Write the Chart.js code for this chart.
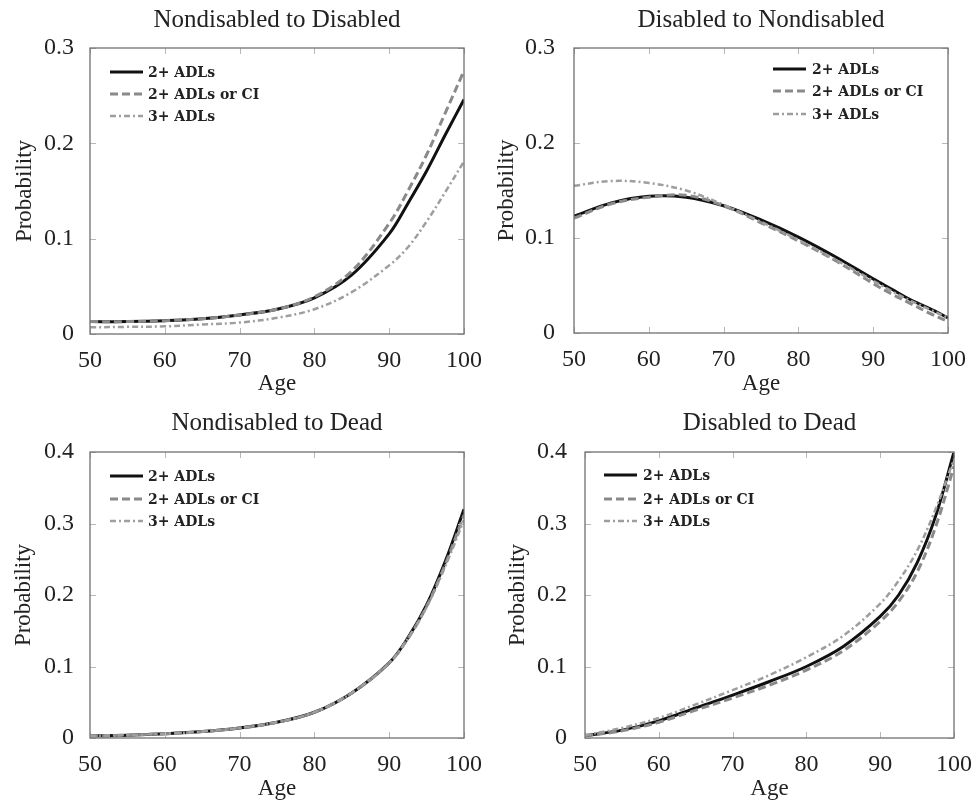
<!DOCTYPE html>
<html>
<head>
<meta charset="utf-8">
<script src="https://cdn.jsdelivr.net/npm/chart.js@4.4.0/dist/chart.umd.min.js"></script>
<style>
  html, body { margin: 0; padding: 0; background: #fff; }
  #wrap { position: relative; width: 976px; height: 802px; }
  .panel { position: absolute; width: 488px; height: 401px; }
</style>
</head>
<body>
<div id="wrap">
  <div class="panel" style="left:0;top:0"><canvas id="c1" width="488" height="401"></canvas></div>
  <div class="panel" style="left:488px;top:0"><canvas id="c2" width="488" height="401"></canvas></div>
  <div class="panel" style="left:0;top:401px"><canvas id="c3" width="488" height="401"></canvas></div>
  <div class="panel" style="left:488px;top:401px"><canvas id="c4" width="488" height="401"></canvas></div>
</div>
<script>
// ages shared by every curve
const ages = [50, 55, 60, 65, 70, 75, 80, 85, 90, 92.5, 95, 97.5, 100];
const xTicks = [50, 60, 70, 80, 90, 100];
const seriesLabels = ['2+ ADLs', '2+ ADLs or CI', '3+ ADLs'];

// Nondisabled to Disabled
const ndToDis2 = [0.013, 0.013, 0.014, 0.016, 0.020, 0.026, 0.038, 0.062, 0.105, 0.137, 0.171, 0.209, 0.246];
const ndToDis2ci = [0.013, 0.013, 0.014, 0.016, 0.020, 0.026, 0.039, 0.066, 0.116, 0.150, 0.188, 0.232, 0.276];
const ndToDis3 = [0.007, 0.0075, 0.008, 0.010, 0.012, 0.017, 0.026, 0.044, 0.072, 0.091, 0.118, 0.149, 0.181];

// Disabled to Nondisabled
const disToNd2 = [0.123, 0.137, 0.144, 0.143, 0.134, 0.119, 0.101, 0.080, 0.057, 0.046, 0.035, 0.026, 0.016];
const disToNd2ci = [0.121, 0.136, 0.143, 0.145, 0.134, 0.116, 0.097, 0.076, 0.052, 0.041, 0.031, 0.021, 0.012];
const disToNd3 = [0.155, 0.160, 0.158, 0.150, 0.135, 0.117, 0.098, 0.077, 0.055, 0.044, 0.034, 0.025, 0.016];

// Nondisabled to Dead
const ndToDead2 = [0.003, 0.004, 0.006, 0.009, 0.014, 0.022, 0.036, 0.063, 0.105, 0.140, 0.186, 0.247, 0.320];
const ndToDead2ci = [0.003, 0.004, 0.006, 0.009, 0.014, 0.022, 0.036, 0.063, 0.105, 0.139, 0.184, 0.243, 0.312];
const ndToDead3 = [0.003, 0.004, 0.006, 0.009, 0.014, 0.022, 0.036, 0.063, 0.105, 0.139, 0.183, 0.240, 0.305];

// Disabled to Dead
const disToDead2 = [0.003, 0.011, 0.024, 0.042, 0.060, 0.079, 0.100, 0.128, 0.170, 0.200, 0.245, 0.310, 0.400];
const disToDead2ci = [0.003, 0.010, 0.022, 0.039, 0.056, 0.074, 0.095, 0.122, 0.163, 0.191, 0.232, 0.295, 0.380];
const disToDead3 = [0.004, 0.014, 0.028, 0.047, 0.067, 0.088, 0.113, 0.143, 0.188, 0.220, 0.262, 0.320, 0.390];

const FONT = "'Liberation Serif', 'Times New Roman', serif";
const INK = '#222';

const STYLES = [
  { borderColor: '#111111', borderWidth: 3, borderDash: [], order: 2 },
  { borderColor: '#8a8a8a', borderWidth: 3, borderDash: [8, 4], order: 1 },
  { borderColor: '#9e9e9e', borderWidth: 2.5, borderDash: [6, 3, 2, 3], order: 0 },
];

// pgfplots-ish frame with ticks pointing inwards on all four sides
const frame = {
  id: 'frame',
  afterDatasetsDraw(chart) {
    const { ctx, chartArea: a, scales: { x, y } } = chart;
    ctx.save();
    ctx.strokeStyle = '#b8b8b8';
    ctx.lineWidth = 1;
    ctx.beginPath();
    x.ticks.forEach((t) => {
      const px = Math.round(x.getPixelForValue(t.value)) + 0.5;
      ctx.moveTo(px, a.bottom); ctx.lineTo(px, a.bottom - 6);
      ctx.moveTo(px, a.top); ctx.lineTo(px, a.top + 6);
    });
    y.ticks.forEach((t) => {
      const py = Math.round(y.getPixelForValue(t.value)) + 0.5;
      ctx.moveTo(a.left, py); ctx.lineTo(a.left + 6, py);
      ctx.moveTo(a.right, py); ctx.lineTo(a.right - 6, py);
    });
    ctx.stroke();
    ctx.strokeStyle = '#707070';
    ctx.lineWidth = 1.3;
    ctx.strokeRect(a.left, a.top, a.right - a.left, a.bottom - a.top);
    ctx.restore();
  },
};

// small legend inside the plot, styles taken from the datasets
const lineKey = {
  id: 'lineKey',
  afterDraw(chart, args, opts) {
    const { ctx } = chart;
    ctx.save();
    ctx.font = 'bold 14px "DejaVu Serif", serif';
    ctx.textBaseline = 'middle';
    ctx.fillStyle = INK;
    chart.data.datasets.forEach((ds, i) => {
      const yy = opts.rows[i];
      ctx.strokeStyle = ds.borderColor;
      ctx.lineWidth = ds.borderWidth;
      ctx.setLineDash(ds.borderDash);
      ctx.beginPath();
      ctx.moveTo(opts.x, yy);
      ctx.lineTo(opts.x + 33, yy);
      ctx.stroke();
      ctx.setLineDash([]);
      ctx.fillText(ds.label, opts.textX, yy + 1);
    });
    ctx.restore();
  },
};

const panels = [
  { id: 'c1', title: 'Nondisabled to Disabled', yMax: 0.3, series: [ndToDis2, ndToDis2ci, ndToDis3],
    left: 90, right: 24, top: 48, xh: 67, titlePad: 8, yTitlePad: 13.5, yTickPad: 8, xTickPad: 4, xTitlePad: 5.5,
    key: { x: 110, textX: 148, rows: [72, 94, 116] } },
  { id: 'c2', title: 'Disabled to Nondisabled', yMax: 0.3, series: [disToNd2, disToNd2ci, disToNd3],
    left: 86, right: 28, top: 48, xh: 68, titlePad: 8, yTitlePad: 7.5, yTickPad: 11, xTickPad: 4, xTitlePad: 5.5,
    key: { x: 285, textX: 324, rows: [69, 91, 114] } },
  { id: 'c3', title: 'Nondisabled to Dead', yMax: 0.4, series: [ndToDead2, ndToDead2ci, ndToDead3],
    left: 90, right: 24, top: 51, xh: 64, titlePad: 10, yTitlePad: 12.5, yTickPad: 8, xTickPad: 4, xTitlePad: 1.5,
    key: { x: 110, textX: 148, rows: [75, 98, 120] } },
  { id: 'c4', title: 'Disabled to Dead', yMax: 0.4, series: [disToDead2, disToDead2ci, disToDead3],
    left: 97, right: 18, top: 51, xh: 64, titlePad: 10, yTitlePad: 18.5, yTickPad: 10, xTickPad: 4, xTitlePad: 1.5,
    key: { x: 116, textX: 155, rows: [74, 98, 120] } },
];

function buildPanel(p) {
  const datasets = p.series.map((vals, i) => ({
    label: seriesLabels[i],
    data: ages.map((a, k) => ({ x: a, y: vals[k] })),
    ...STYLES[i],
    pointRadius: 0,
    fill: false,
    tension: 0.35,
  }));

  new Chart(document.getElementById(p.id), {
    type: 'line',
    data: { datasets },
    options: {
      responsive: false,
      animation: false,
      devicePixelRatio: 1,
      layout: { padding: { left: 0, right: p.right, top: 0, bottom: 0 } },
      plugins: {
        legend: { display: false },
        tooltip: { enabled: false },
        title: {
          display: true,
          fullSize: false,
          text: p.title,
          color: INK,
          font: { family: FONT, size: 25, weight: 'normal', lineHeight: 1 },
          padding: { top: p.titlePad, bottom: p.top - 25 - p.titlePad },
        },
        lineKey: p.key,
      },
      scales: {
        x: {
          type: 'linear',
          min: 50,
          max: 100,
          afterBuildTicks: (s) => { s.ticks = xTicks.map((v) => ({ value: v })); },
          afterFit: (s) => { s.height = p.xh; },
          grid: { display: false },
          border: { display: false },
          ticks: { color: INK, padding: p.xTickPad, maxRotation: 0, font: { family: FONT, size: 24 } },
          title: {
            display: true, text: 'Age', color: INK,
            font: { family: FONT, size: 23, lineHeight: 1 },
            padding: { top: 0, bottom: p.xTitlePad },
          },
        },
        y: {
          min: 0,
          max: p.yMax,
          afterFit: (s) => { s.width = p.left; },
          grid: { display: false },
          border: { display: false },
          ticks: { color: INK, stepSize: 0.1, padding: p.yTickPad, font: { family: FONT, size: 24 } },
          title: {
            display: true, text: 'Probability', color: INK,
            font: { family: FONT, size: 23, lineHeight: 1 },
            padding: { top: p.yTitlePad, bottom: 0 },
          },
        },
      },
    },
    plugins: [frame, lineKey],
  });
}

panels.forEach(buildPanel);
</script>
</body>
</html>
